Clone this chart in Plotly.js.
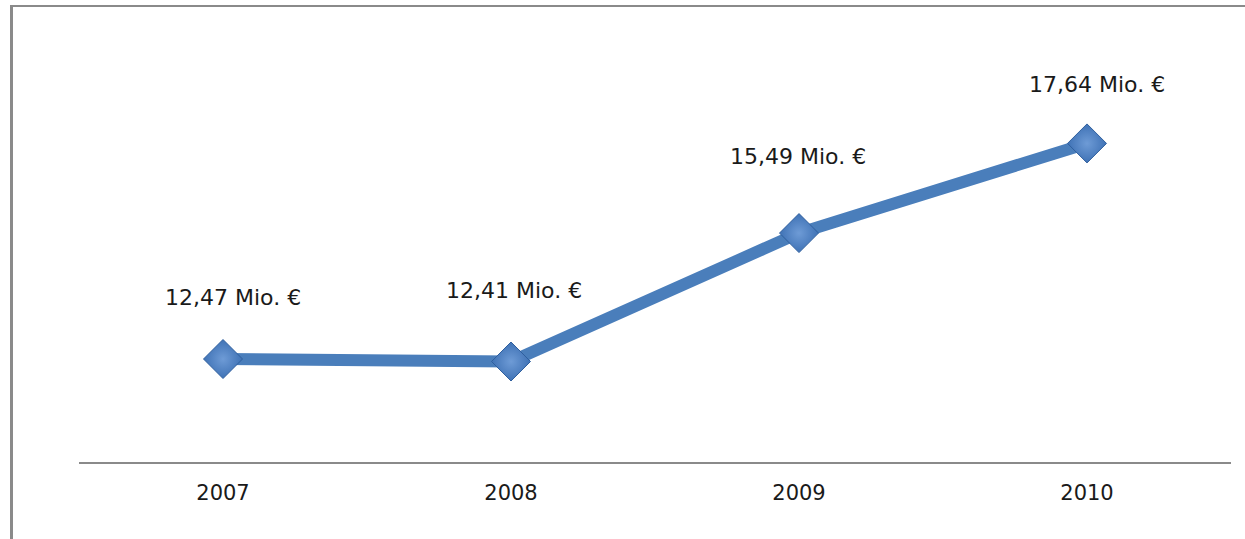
<!DOCTYPE html>
<html>
<head>
<meta charset="utf-8">
<script src="https://cdn.plot.ly/plotly-3.0.1.min.js"></script>
<style>
html,body{margin:0;padding:0;background:#fff;}
#wrap{position:relative;width:1245px;height:539px;overflow:hidden;}
#chart{position:absolute;left:0;top:0;width:1245px;height:539px;}
#frame{position:absolute;left:10px;top:5px;width:1235px;height:540px;border-top:2px solid #8a8a8a;border-left:3px solid #8a8a8a;pointer-events:none;box-sizing:border-box;}
</style>
</head>
<body>
<div id="wrap"><div id="chart"></div><div id="frame"></div></div>
<script>
const years = ['2007', '2008', '2009', '2010'];
const revenue = [12.47, 12.41, 15.49, 17.64];
const labelShiftY = [62, 71, 77, 59];
const labelShiftX = [10, 3, -1, 10];

const fmt = v => v.toFixed(2).replace('.', ',') + ' Mio. €';

const trace = {
  type: 'scatter',
  mode: 'lines+markers',
  x: years,
  y: revenue,
  line: {color: '#4A7EBB', width: 12},
  marker: {symbol: 'diamond', size: 30, color: '#3F72B5',
           gradient: {type: 'radial', color: '#6E9BD6'},
           line: {color: '#2F5F9E', width: 1}},
  hoverinfo: 'skip'
};

const annotations = years.map((yr, i) => ({
  x: i, y: revenue[i], xref: 'x', yref: 'y',
  text: fmt(revenue[i]), showarrow: false,
  yshift: labelShiftY[i], xshift: labelShiftX[i],
  font: {family: 'DejaVu Sans', size: 22, color: '#1a1a1a'}
}));

const layout = {
  width: 1245, height: 539,
  margin: {l: 79, r: 14, t: 45, b: 77},
  paper_bgcolor: '#ffffff', plot_bgcolor: '#ffffff',
  showlegend: false,
  xaxis: {
    type: 'category', range: [-0.5, years.length - 0.5],
    showline: true, linecolor: '#8a8a8a', linewidth: 2,
    ticks: '', showgrid: false, zeroline: false, fixedrange: true,
    ticklabelstandoff: 11,
    tickfont: {family: 'DejaVu Sans', size: 21, color: '#1a1a1a'}
  },
  yaxis: {range: [10, 20], visible: false, showgrid: false, zeroline: false, fixedrange: true},
  annotations: annotations
};

Plotly.newPlot('chart', [trace], layout, {displayModeBar: false, staticPlot: true});
</script>
</body>
</html>
